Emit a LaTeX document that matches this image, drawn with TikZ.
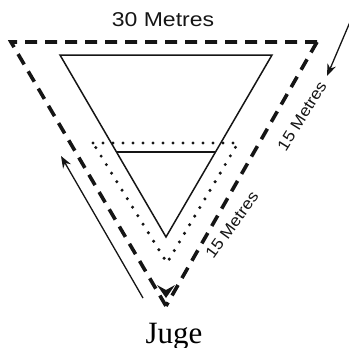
\documentclass[tikz,border=0pt]{standalone}
\usepackage{fontspec}
\setmainfont{Liberation Serif}
\setsansfont{Liberation Sans}
\usepackage{tikz}
\usetikzlibrary{arrows.meta}
\definecolor{jugeink}{HTML}{151515}

\begin{document}
\begin{tikzpicture}[
  x=1pt, y=-1pt,
  dashline/.style={draw=jugeink, line width=3.6pt, dash pattern=on 12pt off 8pt},
  dotline/.style={draw=jugeink, line width=3.4pt, line cap=round, dash pattern=on 0pt off 10pt},
  solidline/.style={draw=jugeink, line width=1.5pt, line join=miter},
  dirarrow/.style={draw=jugeink, line width=1.3pt, -{Stealth[length=12pt, width=9pt]}},
  lbl/.style={font=\sffamily\fontsize{16}{16}\selectfont, text=jugeink, inner sep=0pt}
]
\useasboundingbox (0,0) rectangle (349,348);

% corners of the three triangles
\coordinate (outerl) at (11,42);
\coordinate (outerr) at (317,42);
\coordinate (outera) at (166,298);
\coordinate (dotl) at (93,143);
\coordinate (dotr) at (238,143);
\coordinate (dota) at (167,263);
\coordinate (bigl) at (60,55);
\coordinate (bigr) at (272,55);
\coordinate (biga) at (166,237);
\coordinate (cutl) at (116.5,152);
\coordinate (cutr) at (215.5,152);

% walking routes
\draw[dashline] (outerr) -- (outerl) -- ([yshift=-8pt]outera);
\draw[dashline] (outerr) -- ([yshift=-8pt]outera);
\fill[jugeink] (outera) -- ++(-9,-13) -- ++(9,5) -- ++(9,-5) -- cycle;
\draw[dotline] (dotl) -- (dotr) -- (dota) -- cycle;
\draw[solidline] (bigl) -- (bigr) -- (biga) -- cycle;
\draw[solidline] (cutl) -- (cutr);

% direction of walking
\coordinate (rstart) at (350,22);
\coordinate (rend) at (327,76);
\coordinate (lstart) at (143,298);
\coordinate (lend) at (61,156);
\draw[dirarrow] (rstart) -- (rend);
\draw[dirarrow] (lstart) -- (lend);

\node[lbl, font=\sffamily\fontsize{20}{20}\selectfont] (toplen) at (163,20) {\scalebox{1.15}[1]{30 Metres}};
\node[lbl, rotate=58] (rightlen) at (302,116) {\scalebox{1.1}[1]{15 Metres}};
\node[lbl, rotate=54] (innerlen) at (232,225) {\scalebox{1.1}[1]{15 Metres}};
\node[font=\fontsize{31}{31}\selectfont, anchor=base, inner sep=0pt] (caption) at (174,343) {Juge};
\end{tikzpicture}
\end{document}
